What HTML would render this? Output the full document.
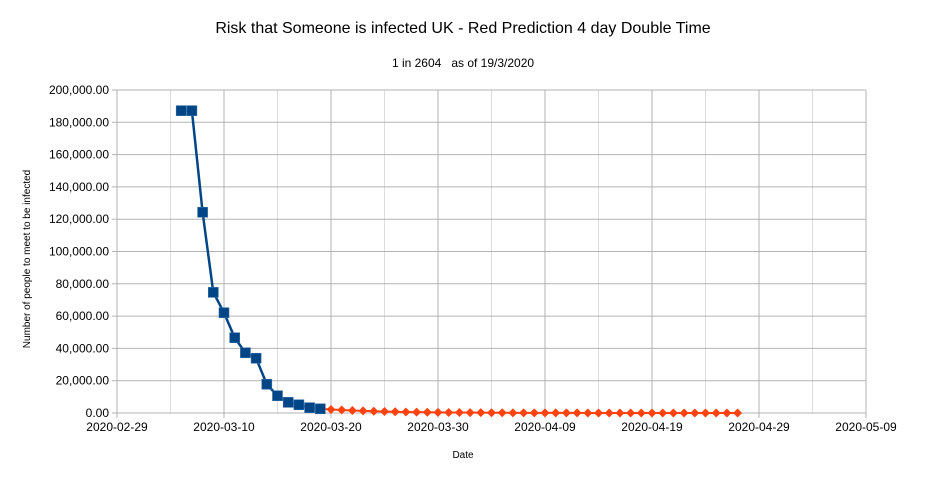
<!DOCTYPE html>
<html><head><meta charset="utf-8"><style>
body{margin:0;background:#fff;}
svg{display:block;font-family:"Liberation Sans",sans-serif;}
</style></head><body>
<svg id="c" width="925" height="478">
<rect width="925" height="478" fill="#fff"/>
<text x="463" y="33" font-size="16" text-anchor="middle" fill="#000">Risk that Someone is infected UK - Red Prediction 4 day Double Time</text>
<text x="463" y="67" font-size="12" text-anchor="middle" fill="#000" xml:space="preserve">1 in 2604   as of 19/3/2020</text>
<text x="463" y="458" font-size="10" text-anchor="middle" fill="#000">Date</text>
<text transform="translate(30,259) rotate(-90)" font-size="10" text-anchor="middle" fill="#000">Number of people to meet to be infected</text>
<g id="grid"></g><g id="axes"></g><g id="series"></g>
</svg>
<script>
const yTicks=[0,20000,40000,60000,80000,100000,120000,140000,160000,180000,200000];
const xTickLabels=["2020-02-29","2020-03-10","2020-03-20","2020-03-30","2020-04-09","2020-04-19","2020-04-29","2020-05-09"];
const xTickDays=[0,10,20,30,40,50,60,70];
const blueDays=[6,7,8,9,10,11,12,13,14,15,16,17,18,19];
const blueValues=[187200,187200,124300,74700,62100,46600,37300,33900,17800,10700,6600,5100,3300,2604];
const redDays=[20,21,22,23,24,25,26,27,28,29,30,31,32,33,34,35,36,37,38,39,40,41,42,43,44,45,46,47,48,49,50,51,52,53,54,55,56,57,58];
const redValues=[2190,1840,1550,1300,1095,920,775,650,550,460,387,325,274,230,194,163,137,115,97,81,68,57,48,41,34,29,24,20,17,14,12,10,9,7,6,5,4,4,3];
const X0=117,X1=866,Y0=413,Y1=90,DMAX=70,VMAX=200000;
const xs=d=>X0+(X1-X0)*d/DMAX, ys=v=>Y0-(Y0-Y1)*v/VMAX;
const NS="http://www.w3.org/2000/svg";
function mk(t,a,p){const e=document.createElementNS(NS,t);for(const k in a)e.setAttribute(k,a[k]);p.appendChild(e);return e;}
const grid=document.getElementById('grid'),axes=document.getElementById('axes'),ser=document.getElementById('series');
for(let d=5;d<=DMAX;d+=5){const l=mk('line',{x1:xs(d),x2:xs(d),y1:Y1,y2:Y0,stroke:d%10?'#dddddd':'#b3b3b3','stroke-width':1},grid);

}
yTicks.forEach(v=>{if(v>0){const l=mk('line',{x1:X0,x2:X1,y1:ys(v),y2:ys(v),stroke:'#b3b3b3','stroke-width':1},grid);

}
mk('line',{x1:X0-5,x2:X0,y1:ys(v),y2:ys(v),stroke:'#b3b3b3'},axes);
const t=mk('text',{x:X0-8,y:ys(v)+4,'font-size':12,'text-anchor':'end',fill:'#000'},axes);
t.textContent=v.toLocaleString('en-US',{minimumFractionDigits:2,maximumFractionDigits:2});

});
xTickDays.forEach((d,i)=>{mk('line',{x1:xs(d),x2:xs(d),y1:Y0,y2:Y0+5,stroke:'#b3b3b3'},axes);
const t=mk('text',{x:xs(d),y:Y0+18,'font-size':12,'text-anchor':'middle',fill:'#000'},axes);
t.textContent=xTickLabels[i];

});
mk('line',{x1:X0,x2:X0,y1:Y1,y2:Y0,stroke:'#b3b3b3'},axes);
mk('line',{x1:X0,x2:X1,y1:Y0,y2:Y0,stroke:'#b3b3b3'},axes);
// red series
let rp=[[xs(blueDays[blueDays.length-1]),ys(blueValues[blueValues.length-1])]].concat(redDays.map((d,i)=>[xs(d),ys(redValues[i])]));
const rl=mk('polyline',{points:rp.map(p=>p.join(',')).join(' '),fill:'none',stroke:'#ff420e','stroke-width':2},ser);


redDays.forEach((d,i)=>{const x=xs(d),y=ys(redValues[i]);
const m=mk('polygon',{points:`${x},${y-4.5} ${x+4.5},${y} ${x},${y+4.5} ${x-4.5},${y}`,fill:'#ff420e'},ser);

});
// blue series
const bl=mk('polyline',{points:blueDays.map((d,i)=>xs(d)+','+ys(blueValues[i])).join(' '),fill:'none',stroke:'#004586','stroke-width':2.5},ser);


blueDays.forEach((d,i)=>{const x=xs(d),y=ys(blueValues[i]);
const m=mk('rect',{x:x-5,y:y-5,width:10,height:10,fill:'#004586',stroke:'#3a6ea5','stroke-width':0.6},ser);

});
</script>
</body></html>
